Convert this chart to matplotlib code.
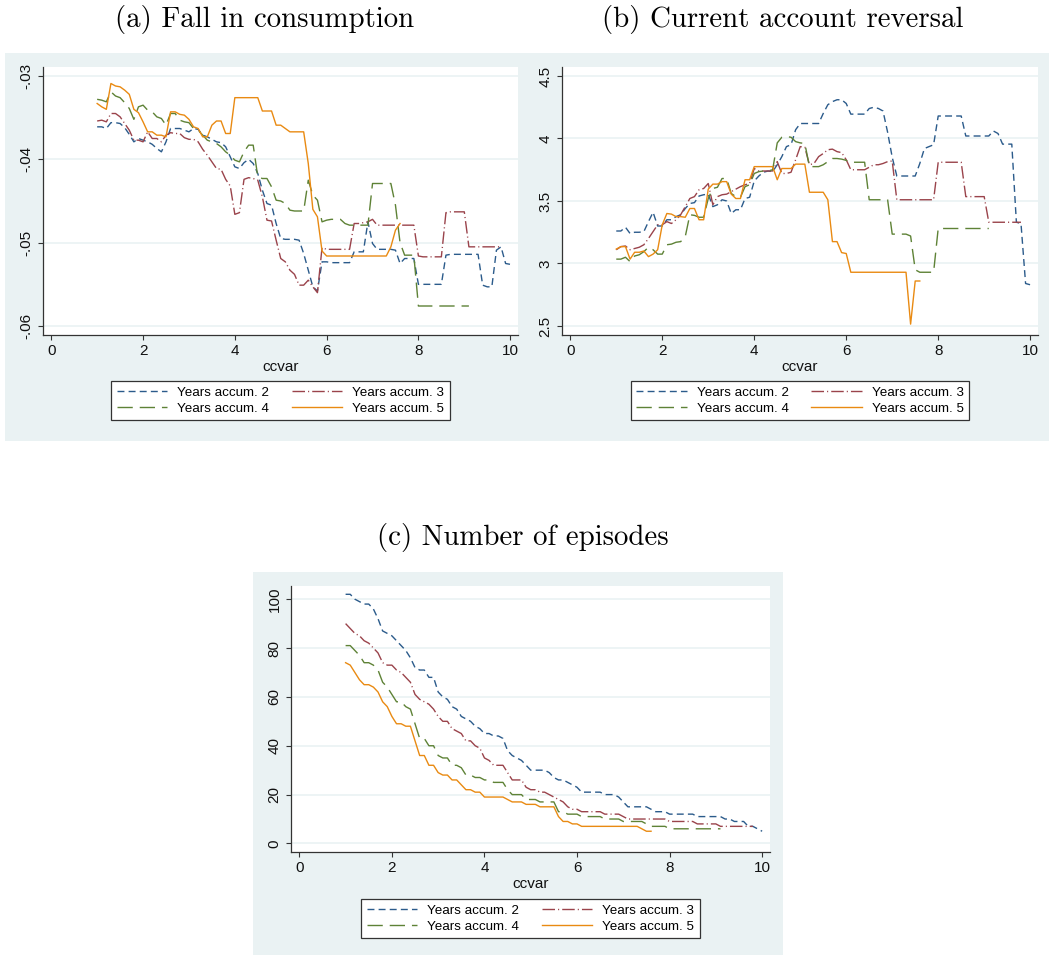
import numpy as np
import matplotlib.pyplot as plt
from matplotlib.patches import Rectangle

plt.rcParams['font.family'] = ['Liberation Sans', 'DejaVu Sans']
plt.rcParams['lines.scale_dashes'] = False

# ccvar grid, 1.0 .. 10.0 by 0.1
ccvar = np.round(np.arange(1.0, 10.01, 0.1), 1)

series_names = ['Years accum. 2', 'Years accum. 3', 'Years accum. 4', 'Years accum. 5']

# (a) Fall in consumption
cons_2 = [-0.0361, -0.0361, -0.0363, -0.0356, -0.0356, -0.0357, -0.0362, -0.0370, -0.0379, -0.0375,
          -0.0377, -0.0379, -0.0382, -0.0387, -0.0391, -0.0379, -0.0363, -0.0363, -0.0363, -0.0365,
          -0.0367, -0.0363, -0.0364, -0.0371, -0.0373, -0.0376, -0.0379, -0.0380, -0.0385, -0.0397,
          -0.0409, -0.0411, -0.0404, -0.0400, -0.0405, -0.0417, -0.0437, -0.0453, -0.0455, -0.0477,
          -0.0495, -0.0496, -0.0496, -0.0496, -0.0497, -0.0513, -0.0533, -0.0553, -0.0558, -0.0523,
          -0.0523, -0.0524, -0.0524, -0.0524, -0.0524, -0.0524, -0.0511, -0.0511, -0.0511, -0.0475,
          -0.0501, -0.0508, -0.0508, -0.0508, -0.0508, -0.0509, -0.0525, -0.0519, -0.0519, -0.0519,
          -0.0550, -0.0550, -0.0550, -0.0550, -0.0550, -0.0550, -0.0515, -0.0514, -0.0514, -0.0514,
          -0.0514, -0.0514, -0.0514, -0.0514, -0.0551, -0.0553, -0.0553, -0.0509, -0.0505, -0.0525,
          -0.0526]
cons_3 = [-0.0354, -0.0353, -0.0355, -0.0345, -0.0345, -0.0349, -0.0357, -0.0365, -0.0377, -0.0377,
          -0.0379, -0.0367, -0.0375, -0.0375, -0.0379, -0.0371, -0.0368, -0.0369, -0.0369, -0.0374,
          -0.0376, -0.0376, -0.0379, -0.0388, -0.0395, -0.0403, -0.0411, -0.0412, -0.0424, -0.0432,
          -0.0466, -0.0464, -0.0424, -0.0422, -0.0423, -0.0425, -0.0445, -0.0473, -0.0474, -0.0497,
          -0.0519, -0.0523, -0.0533, -0.0538, -0.0551, -0.0551, -0.0545, -0.0553, -0.0560, -0.0506,
          -0.0508, -0.0508, -0.0508, -0.0508, -0.0508, -0.0508, -0.0477, -0.0477, -0.0476, -0.0475,
          -0.0472, -0.0479, -0.0479, -0.0479, -0.0479, -0.0479, -0.0479, -0.0479, -0.0479, -0.0479,
          -0.0516, -0.0517, -0.0517, -0.0517, -0.0517, -0.0517, -0.0464, -0.0463, -0.0463, -0.0463,
          -0.0463, -0.0505, -0.0505, -0.0505, -0.0505, -0.0505, -0.0505, -0.0505, -0.0505]
cons_4 = [-0.0328, -0.0329, -0.0331, -0.0319, -0.0324, -0.0326, -0.0332, -0.0339, -0.0352, -0.0337,
          -0.0335, -0.0341, -0.0343, -0.0349, -0.0351, -0.0359, -0.0345, -0.0345, -0.0353, -0.0355,
          -0.0356, -0.0363, -0.0365, -0.0371, -0.0377, -0.0379, -0.0381, -0.0385, -0.0391, -0.0395,
          -0.0401, -0.0403, -0.0391, -0.0383, -0.0383, -0.0421, -0.0423, -0.0423, -0.0433, -0.0449,
          -0.0450, -0.0453, -0.0461, -0.0462, -0.0462, -0.0462, -0.0425, -0.0443, -0.0449, -0.0475,
          -0.0473, -0.0472, -0.0472, -0.0472, -0.0477, -0.0479, -0.0479, -0.0479, -0.0479, -0.0479,
          -0.0429, -0.0429, -0.0429, -0.0429, -0.0429, -0.0455, -0.0500, -0.0515, -0.0515, -0.0515,
          -0.0576, -0.0576, -0.0576, -0.0576, -0.0576, -0.0576, -0.0576, -0.0576, -0.0576, -0.0576,
          -0.0576, -0.0576]
cons_5 = [-0.0333, -0.0337, -0.0340, -0.0309, -0.0312, -0.0313, -0.0317, -0.0322, -0.0340, -0.0344,
          -0.0355, -0.0367, -0.0367, -0.0371, -0.0371, -0.0373, -0.0343, -0.0343, -0.0346, -0.0347,
          -0.0352, -0.0361, -0.0363, -0.0373, -0.0373, -0.0359, -0.0354, -0.0354, -0.0369, -0.0369,
          -0.0326, -0.0326, -0.0326, -0.0326, -0.0326, -0.0326, -0.0342, -0.0342, -0.0342, -0.0359,
          -0.0359, -0.0363, -0.0367, -0.0367, -0.0367, -0.0367, -0.0405, -0.0460, -0.0469, -0.0510,
          -0.0516, -0.0516, -0.0516, -0.0516, -0.0516, -0.0516, -0.0516, -0.0516, -0.0516, -0.0516,
          -0.0516, -0.0516, -0.0516, -0.0516, -0.0505, -0.0485, -0.0477]

# (b) Current account reversal
ca_2 = [3.26, 3.26, 3.29, 3.24, 3.25, 3.25, 3.255, 3.335, 3.41, 3.30,
        3.30, 3.35, 3.35, 3.375, 3.39, 3.44, 3.48, 3.487, 3.54, 3.55,
        3.555, 3.455, 3.47, 3.51, 3.50, 3.40, 3.43, 3.43, 3.52, 3.53,
        3.66, 3.70, 3.73, 3.74, 3.735, 3.79, 3.855, 3.935, 3.95, 4.07,
        4.12, 4.12, 4.12, 4.12, 4.12, 4.20, 4.27, 4.295, 4.31, 4.31,
        4.28, 4.195, 4.195, 4.195, 4.195, 4.24, 4.25, 4.24, 4.22, 4.05,
        3.85, 3.70, 3.70, 3.70, 3.70, 3.70, 3.80, 3.92, 3.935, 3.95,
        4.18, 4.18, 4.18, 4.18, 4.18, 4.18, 4.02, 4.02, 4.02, 4.02,
        4.02, 4.02, 4.06, 4.04, 3.955, 3.955, 3.955, 3.33, 3.32, 2.84,
        2.83]
ca_3 = [3.11, 3.135, 3.14, 3.11, 3.12, 3.13, 3.15, 3.20, 3.255, 3.31,
        3.31, 3.335, 3.32, 3.35, 3.39, 3.455, 3.52, 3.535, 3.59, 3.60,
        3.64, 3.47, 3.535, 3.55, 3.555, 3.575, 3.595, 3.615, 3.63, 3.64,
        3.76, 3.74, 3.74, 3.74, 3.74, 3.815, 3.72, 3.72, 3.73, 3.83,
        3.935, 3.93, 3.79, 3.80, 3.855, 3.88, 3.91, 3.915, 3.895, 3.887,
        3.83, 3.75, 3.75, 3.75, 3.75, 3.77, 3.79, 3.79, 3.80, 3.815,
        3.82, 3.51, 3.51, 3.51, 3.51, 3.51, 3.51, 3.51, 3.51, 3.51,
        3.81, 3.81, 3.81, 3.81, 3.81, 3.81, 3.535, 3.535, 3.535, 3.535,
        3.535, 3.33, 3.33, 3.33, 3.33, 3.33, 3.33, 3.33, 3.33]
ca_4 = [3.035, 3.035, 3.05, 3.015, 3.06, 3.07, 3.095, 3.13, 3.11, 3.075,
        3.075, 3.15, 3.155, 3.17, 3.175, 3.215, 3.39, 3.385, 3.37, 3.37,
        3.52, 3.60, 3.61, 3.68, 3.68, 3.56, 3.535, 3.53, 3.615, 3.63,
        3.72, 3.735, 3.74, 3.74, 3.75, 3.965, 4.01, 4.015, 4.01, 3.975,
        3.965, 3.96, 3.775, 3.775, 3.775, 3.79, 3.815, 3.84, 3.84, 3.835,
        3.825, 3.81, 3.81, 3.81, 3.81, 3.51, 3.51, 3.51, 3.51, 3.51,
        3.235, 3.235, 3.235, 3.235, 3.22, 2.95, 2.93, 2.93, 2.93, 2.93,
        3.28, 3.28, 3.28, 3.28, 3.28, 3.28, 3.28, 3.28, 3.28, 3.28,
        3.28, 3.28]
ca_5 = [3.115, 3.135, 3.135, 3.035, 3.09, 3.09, 3.10, 3.055, 3.075, 3.11,
        3.31, 3.40, 3.395, 3.375, 3.375, 3.37, 3.44, 3.44, 3.35, 3.35,
        3.595, 3.635, 3.635, 3.655, 3.655, 3.555, 3.52, 3.52, 3.67, 3.67,
        3.775, 3.775, 3.775, 3.775, 3.775, 3.67, 3.76, 3.76, 3.76, 3.795,
        3.795, 3.795, 3.57, 3.57, 3.57, 3.57, 3.51, 3.175, 3.175, 3.087,
        3.08, 2.93, 2.93, 2.93, 2.93, 2.93, 2.93, 2.93, 2.93, 2.93,
        2.93, 2.93, 2.93, 2.93, 2.515, 2.86, 2.86]

# (c) Number of episodes
ep_2 = [102, 102, 100, 99, 98, 98, 96, 92, 87, 86,
        85, 83, 81, 79, 76, 72, 71, 71, 68, 68,
        62, 60, 59, 56, 55, 52, 51, 50, 48, 47,
        45, 45, 44, 44, 43, 38, 36, 35, 34, 32,
        30, 30, 30, 30, 29, 27, 26, 26, 25, 24,
        23, 21, 21, 21, 21, 21, 20, 20, 20, 19,
        17, 15, 15, 15, 15, 15, 14, 13, 13, 13,
        12, 12, 12, 12, 12, 12, 11, 11, 11, 11,
        11, 11, 10, 10, 9, 9, 9, 7, 7, 6,
        5]
ep_3 = [90, 88, 86, 85, 83, 82, 80, 78, 74, 73,
        73, 71, 70, 68, 66, 61, 59, 58, 57, 55,
        52, 50, 50, 47, 46, 45, 42, 42, 40, 39,
        35, 34, 32, 32, 32, 29, 26, 26, 26, 23,
        22, 22, 21, 21, 20, 19, 18, 17, 15, 14,
        14, 13, 13, 13, 13, 13, 12, 12, 12, 12,
        11, 10, 10, 10, 10, 10, 10, 10, 10, 10,
        9, 9, 9, 9, 9, 9, 8, 8, 8, 8,
        8, 7, 7, 7, 7, 7, 7, 7, 7]
ep_4 = [81, 81, 79, 77, 74, 74, 73, 71, 66, 64,
        61, 58, 58, 56, 55, 49, 43, 43, 40, 40,
        36, 35, 35, 32, 32, 31, 28, 28, 27, 27,
        26, 26, 25, 25, 25, 22, 20, 20, 20, 18,
        18, 18, 17, 17, 17, 17, 13, 13, 12, 12,
        12, 11, 11, 11, 11, 11, 10, 10, 10, 10,
        9, 9, 9, 9, 9, 8, 7, 7, 7, 7,
        6, 6, 6, 6, 6, 6, 6, 6, 6, 6,
        6, 6]
ep_5 = [74, 73, 70, 67, 65, 65, 64, 62, 58, 56,
        52, 49, 49, 48, 48, 42, 36, 36, 32, 32,
        29, 28, 28, 26, 26, 24, 22, 22, 21, 21,
        19, 19, 19, 19, 19, 18, 17, 17, 17, 16,
        16, 16, 15, 15, 15, 15, 11, 9, 9, 8,
        8, 7, 7, 7, 7, 7, 7, 7, 7, 7,
        7, 7, 7, 7, 6, 5, 5]

cons_ticks = [-0.06, -0.05, -0.04, -0.03]
cons_ticklabels = ['-.06', '-.05', '-.04', '-.03']
ca_ticks = [2.5, 3, 3.5, 4, 4.5]
ca_ticklabels = ['2.5', '3', '3.5', '4', '4.5']
ep_ticks = [0, 20, 40, 60, 80, 100]
ep_ticklabels = ['0', '20', '40', '60', '80', '100']
x_ticks = [0, 2, 4, 6, 8, 10]

colors = ['#2b5b8b', '#9a434b', '#5e8236', '#e98a12']
dash_styles = [(0, (5, 3)), (0, (9, 2.2, 0.8, 2.2)), (0, (11, 5)), '-']

W, H = 1049, 955
bg = '#eaf2f3'
ink = '#333333'


def frac(x0, y0, x1, y1):
    return [x0 / W, 1 - y1 / H, (x1 - x0) / W, (y1 - y0) / H]


fig = plt.figure(figsize=(W / 100, H / 100), dpi=100)

# panel backgrounds
for (x0, y0, x1, y1) in [(5, 53, 1049, 441), (253, 572, 783, 955)]:
    fig.add_artist(Rectangle((x0 / W, 1 - y1 / H), (x1 - x0) / W, (y1 - y0) / H,
                             transform=fig.transFigure, facecolor=bg,
                             edgecolor='none', zorder=-10))


def panel(box, data, ticks, ticklabels, ylim, title, title_pos, legend_y):
    ax = fig.add_axes(frac(*box))
    ax.set_facecolor('white')
    for i, ys in enumerate(data):
        ax.plot(ccvar[:len(ys)], ys, color=colors[i], linestyle=dash_styles[i],
                linewidth=1.0, label=series_names[i])
    ax.set_xlim(-0.18, 10.17)
    ax.set_ylim(*ylim)
    ax.set_xticks(x_ticks)
    ax.set_yticks(ticks)
    ax.set_yticklabels(ticklabels, rotation=90, va='center')
    ax.grid(axis='y', color=bg, linewidth=1.2)
    ax.set_axisbelow(True)
    for s in ['top', 'right']:
        ax.spines[s].set_visible(False)
    for s in ['left', 'bottom']:
        ax.spines[s].set_color(ink)
        ax.spines[s].set_linewidth(0.9)
    ax.tick_params(direction='out', length=3.8, width=0.8, color=ink,
                   labelsize=11, labelcolor='#111111', pad=3)
    ax.set_xlabel('ccvar', fontsize=11, labelpad=1, color='#111111')
    fig.text(title_pos[0] / W, 1 - title_pos[1] / H, title, family='cmr10',
             fontsize=20.8, ha='center', va='center')
    h, l = ax.get_legend_handles_labels()
    order = [0, 2, 1, 3]
    cx = (box[0] + box[2]) / 2 / W
    leg = fig.legend([h[k] for k in order], [l[k] for k in order], loc='center',
                     bbox_to_anchor=(cx, 1 - legend_y / H), ncol=2, fontsize=9.6,
                     frameon=True, fancybox=False, framealpha=1, edgecolor=ink,
                     handlelength=3.8, columnspacing=1.7, borderpad=0.4,
                     labelspacing=0.3, handletextpad=0.75)
    leg.get_frame().set_linewidth(0.9)
    return ax


panel((43, 67, 518, 335), [cons_2, cons_3, cons_4, cons_5], cons_ticks, cons_ticklabels,
      (-0.06108, -0.02892), '(a) Fall in consumption', (265, 20), 400.5)
panel((562, 67, 1038, 335), [ca_2, ca_3, ca_4, ca_5], ca_ticks, ca_ticklabels,
      (2.428, 4.572), '(b) Current account reversal', (783, 20), 400.5)
panel((291, 586, 770, 852), [ep_2, ep_3, ep_4, ep_5], ep_ticks, ep_ticklabels,
      (-3.5, 105.4), '(c) Number of episodes', (523, 537), 918.5)

fig.savefig('out.png', dpi=100, facecolor='white')
